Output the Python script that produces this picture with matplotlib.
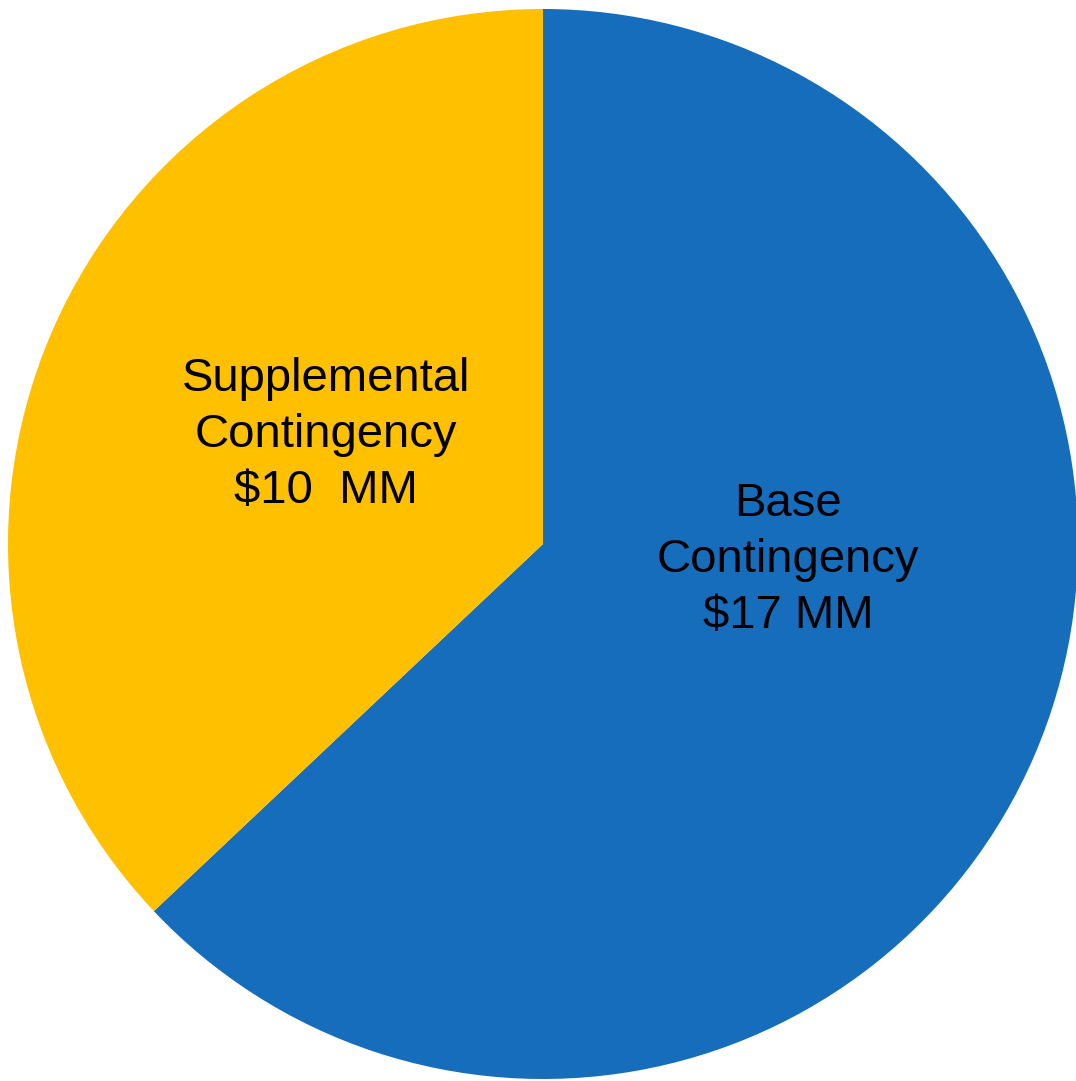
import matplotlib
matplotlib.use("Agg")
import matplotlib.pyplot as plt

categories = ["Base\nContingency\n$17 MM", "Supplemental\nContingency\n$10  MM"]
values = [17, 10]
colors = ["#156DBC", "#FFC000"]
label_pos = [(0.458, -0.030), (-0.405, 0.204)]

fig = plt.figure(figsize=(10.76, 10.81), dpi=100)
W, H = 1076, 1081
cx, cy, r = 543, 544, 535
ax = fig.add_axes([(cx - r) / W, (H - cy - r) / H, 2 * r / W, 2 * r / H])
ax.pie(values, colors=colors, startangle=90, counterclock=False,
       wedgeprops=dict(linewidth=0), radius=1.0)
ax.set_xlim(-1, 1)
ax.set_ylim(-1, 1)
ax.set_aspect("equal")
ax.axis("off")
for lab, (x, y) in zip(categories, label_pos):
    ax.text(x, y, lab, ha="center", va="center", fontsize=34,
            family=["Liberation Sans", "DejaVu Sans"], color="black",
            linespacing=1.36)
fig.savefig("out.png", dpi=100)
